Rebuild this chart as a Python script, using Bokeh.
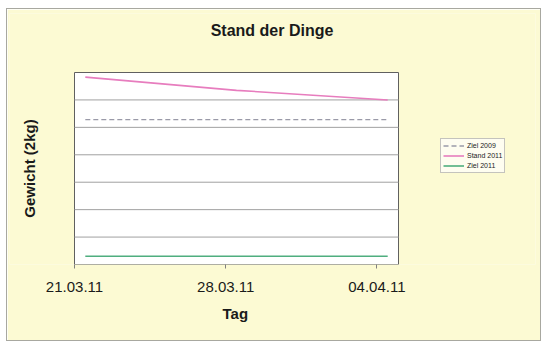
import math
import pandas as pd
from bokeh.plotting import figure
from bokeh.models import (Range1d, FixedTicker, DatetimeTickFormatter, Legend,
                          LegendItem, Title, Label)
from bokeh.embed import file_html
from bokeh.resources import INLINE

# ---- data ----
title_text = "Stand der Dinge"
x_label = "Tag"
y_label = "Gewicht (2kg)"

dates = ["2011-03-21", "2011-03-28", "2011-04-04"]
stand_2011 = [6.83, 6.35, 6.00]
ziel_2009 = [5.28, 5.28, 5.28]
ziel_2011 = [0.30, 0.30, 0.30]
series_names = ["Ziel 2009", "Stand 2011", "Ziel 2011"]
series_colors = ["#9a9aa8", "#E77DBE", "#4FAE7F"]
tick_dates = ["2011-03-21", "2011-03-28", "2011-04-04"]
axis_start = "2011-03-21"
axis_end = "2011-04-05"
y_ticks = [0, 1, 2, 3, 4, 5, 6, 7]

# Excel-style date axis: points sit in the middle of each day
xs = pd.to_datetime(dates) + pd.Timedelta(hours=12)
tick_ms = [pd.Timestamp(t).value // 10**6 for t in tick_dates]
x0 = pd.Timestamp(axis_start)
x1 = pd.Timestamp(axis_end)
y0, y1 = y_ticks[0], y_ticks[-1]

FONT = "Liberation Sans"
BG = "#FCFAD3"

# ---- layout in page pixels ----
PAGE_X, PAGE_Y = 7, 9                 # figure position on the page
W, H = 533, 331
ML, MR, MT, MB = 2, 5, 4, 76
BOX_L, BOX_R, BOX_T, BOX_B = 74, 398, 72, 264   # white plot box
fl, fr = PAGE_X + ML, PAGE_X + W - MR
ft, fb = PAGE_Y + MT, PAGE_Y + H - MB

def px_x(px):
    return x0 + (x1 - x0) * ((px - BOX_L) / (BOX_R - BOX_L))

def px_y(py):
    return y0 + (y1 - y0) * ((BOX_B - py) / (BOX_B - BOX_T))

p = figure(width=W, height=H, x_axis_type="datetime", y_axis_type=None,
           x_range=Range1d(px_x(fl), px_x(fr)), y_range=Range1d(px_y(fb), px_y(ft)),
           output_backend="svg", toolbar_location=None,
           min_border_left=ML, min_border_right=MR,
           min_border_top=MT, min_border_bottom=MB,
           margin=(PAGE_Y, 550 - PAGE_X - W, 346 - PAGE_Y - H, PAGE_X))
p.styles = {"outline": "1px solid #a8a8a0"}
p.background_fill_color = BG
p.border_fill_color = BG
p.outline_line_color = None
p.grid.visible = False

# white plot box with border
p.quad(left=[x0], right=[x1], bottom=[y0], top=[y1],
       fill_color="white", line_color="#606060", line_width=1)
# horizontal gridlines
p.segment(x0=[x0] * (len(y_ticks) - 2), x1=[x1] * (len(y_ticks) - 2),
          y0=y_ticks[1:-1], y1=y_ticks[1:-1], line_color="#a0a0a0", line_width=1)

# x axis
p.xaxis.ticker = FixedTicker(ticks=tick_ms)
p.xaxis.formatter = DatetimeTickFormatter(days="%d.%m.%y", months="%d.%m.%y",
                                          hours="%d.%m.%y")
p.xaxis.axis_line_color = None
p.xaxis.major_tick_line_color = "#808080"
p.xaxis.major_tick_out = 4
p.xaxis.major_tick_in = 0
p.xaxis.minor_tick_line_color = None
p.xaxis.major_label_text_font = FONT
p.xaxis.major_label_text_font_size = "15px"
p.xaxis.major_label_text_color = "#1a1a1a"
p.xaxis.major_label_standoff = 13

# x axis title, placed under the plot box
xt = Title(text=x_label, text_font=FONT, text_font_style="bold",
           text_font_size="15px", text_color="#1a1a1a",
           align="left", offset=222 - fl, standoff=17)
p.add_layout(xt, "below")

# series
r1 = p.line(xs, ziel_2009, line_color=series_colors[0], line_width=1.3, line_dash="5 3")
r2 = p.line(xs, stand_2011, line_color=series_colors[1], line_width=1.6)
r3 = p.line(xs, ziel_2011, line_color=series_colors[2], line_width=1.6)

legend = Legend(items=[LegendItem(label=series_names[0], renderers=[r1]),
                       LegendItem(label=series_names[1], renderers=[r2]),
                       LegendItem(label=series_names[2], renderers=[r3])],
                location=(440 - fl, fb - 173))
legend.label_text_font = FONT
legend.label_text_font_size = "7px"
legend.label_text_color = "#222222"
legend.label_height = 9
legend.glyph_height = 9
legend.glyph_width = 21
legend.label_standoff = 3
legend.spacing = 1
legend.padding = 2
legend.margin = 0
legend.border_line_color = "#8a8a8a"
legend.background_fill_color = "#FEFDF0"
legend.background_fill_alpha = 1
p.add_layout(legend, "center")

# chart title
title = Label(x=px_x(271.5), y=px_y(29.5), text=title_text,
              text_font=FONT, text_font_style="bold", text_font_size="16px",
              text_color="#1a1a1a", text_align="center", text_baseline="middle")
p.add_layout(title)

# y axis title
ylab = Label(x=px_x(29), y=px_y(168), text=y_label, angle=math.pi / 2,
             text_font=FONT, text_font_style="bold", text_font_size="15px",
             text_color="#1a1a1a", text_align="center", text_baseline="middle")
p.add_layout(ylab)

open("out.html", "w").write(file_html(p, INLINE))
